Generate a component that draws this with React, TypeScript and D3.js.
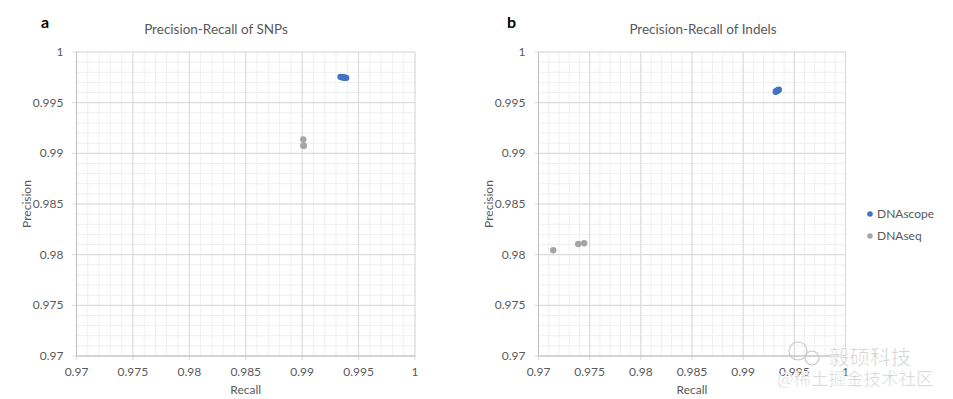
import React from "react";
import * as d3 from "d3";

const axisTicks = [0.97, 0.975, 0.98, 0.985, 0.99, 0.995, 1];
const tickLabels = ["0.97", "0.975", "0.98", "0.985", "0.99", "0.995", "1"];
const seriesNames = ["DNAscope", "DNAseq"];
const seriesColors = ["#4472C4", "#A5A5A5"];

const snpScopeRecall = [0.9934, 0.9935, 0.9936, 0.9937, 0.9938, 0.9939];
const snpScopePrecision = [0.99755, 0.99752, 0.9975, 0.99748, 0.99746, 0.99745];
const snpSeqRecall = [0.9901, 0.9901, 0.99015];
const snpSeqPrecision = [0.99138, 0.99078, 0.99075];

const indelScopeRecall = [0.99318, 0.99325, 0.99332, 0.9934, 0.99348];
const indelScopePrecision = [0.99608, 0.99612, 0.99617, 0.99622, 0.99628];
const indelSeqRecall = [0.97144, 0.97388, 0.97446];
const indelSeqPrecision = [0.98043, 0.98106, 0.98113];

const FONT = "Lato, 'Open Sans', sans-serif";
const TXT = "#595959";

type PanelProps = {
  letter: string;
  title: string;
  titleX: number;
  x0: number; x1: number; y0: number; y1: number;
  letterX: number;
  scope: [number[], number[]];
  seq: [number[], number[]];
};

function Panel({ letter, title, titleX, x0, x1, y0, y1, letterX, scope, seq }: PanelProps) {
  const x = d3.scaleLinear().domain([0.97, 1]).range([x0, x1]);
  const y = d3.scaleLinear().domain([0.97, 1]).range([y1, y0]);
  const minor = d3.range(0, 31).map((i) => 0.97 + i * 0.001);
  const series = [scope, seq];
  return (
    <g>
      <text x={letterX} y={28} fontFamily={FONT} fontWeight={700} fontSize={16} fill="#000">{letter}</text>
      <text x={titleX} y={34} textAnchor="middle" fontFamily={FONT} fontSize={13.5} fill={TXT}>{title}</text>
      {minor.map((v, i) => (
        <g key={"m" + i}>
          <line x1={x(v)} x2={x(v)} y1={y0} y2={y1} stroke="#efefef" strokeWidth={1} />
          <line x1={x0} x2={x1} y1={y(v)} y2={y(v)} stroke="#efefef" strokeWidth={1} />
        </g>
      ))}
      {axisTicks.map((v, i) => (
        <g key={"M" + i}>
          <line x1={x(v)} x2={x(v)} y1={y0} y2={y1 + 4} stroke="#d9d9d9" strokeWidth={1} />
          <line x1={x0 - 4} x2={x1} y1={y(v)} y2={y(v)} stroke="#d9d9d9" strokeWidth={1} />
          <text x={x(v)} y={y1 + 20} textAnchor="middle" fontFamily={FONT} fontSize={12} fill={TXT}>{tickLabels[i]}</text>
          <text x={x0 - 13} y={y(v) + 4} textAnchor="end" fontFamily={FONT} fontSize={12} fill={TXT}>{tickLabels[i]}</text>
        </g>
      ))}
      <line x1={x0} x2={x0} y1={y0} y2={y1} stroke="#bfbfbf" />
      <line x1={x0} x2={x1} y1={y1} y2={y1} stroke="#bfbfbf" />
      <text x={(x0 + x1) / 2} y={394} textAnchor="middle" fontFamily={FONT} fontSize={12} fill={TXT}>Recall</text>
      <text transform={`translate(${x0 - 46},${(y0 + y1) / 2}) rotate(-90)`} textAnchor="middle" fontFamily={FONT} fontSize={12} fill={TXT}>Precision</text>
      {series.map((s, si) =>
        s[0].map((r, i) => (
          <circle key={si + "-" + i} cx={x(r)} cy={y(s[1][i])} r={3.2} fill={seriesColors[si]} />
        ))
      )}
    </g>
  );
}

export default function App() {
  return (
    <svg width={953} height={399} style={{ position: "absolute", left: 0, top: 0, background: "#fff" }}>
      <rect width={953} height={399} fill="#fff" />
      <Panel letter="a" title="Precision-Recall of SNPs" titleX={216} x0={76.5} x1={415} y0={52} y1={356} letterX={41}
        scope={[snpScopeRecall, snpScopePrecision]} seq={[snpSeqRecall, snpSeqPrecision]} />
      <Panel letter="b" title="Precision-Recall of Indels" titleX={703} x0={538.5} x1={845.5} y0={52} y1={356} letterX={507}
        scope={[indelScopeRecall, indelScopePrecision]} seq={[indelSeqRecall, indelSeqPrecision]} />
      {seriesNames.map((n, i) => (
        <g key={n}>
          <circle cx={870} cy={214 + i * 22} r={2.8} fill={seriesColors[i]} />
          <text x={877} y={218 + i * 22} fontFamily={FONT} fontSize={12} fill={TXT}>{n}</text>
        </g>
      ))}
      <g fontFamily="'Noto Sans CJK SC', sans-serif" fill="#c4c4c4" stroke="#ffffff" strokeWidth={0.6} opacity={0.9}>
        <circle cx={798} cy={351} r={9} fill="none" stroke="#c4c4c4" strokeWidth={1.2} />
        <circle cx={812} cy={358} r={7} fill="none" stroke="#c4c4c4" strokeWidth={1.2} />
        <text x={829} y={365} fontSize={20.5}>毅硕科技</text>
        <text x={777} y={385} fontSize={17.5}>@稀土掘金技术社区</text>
      </g>
    </svg>
  );
}
